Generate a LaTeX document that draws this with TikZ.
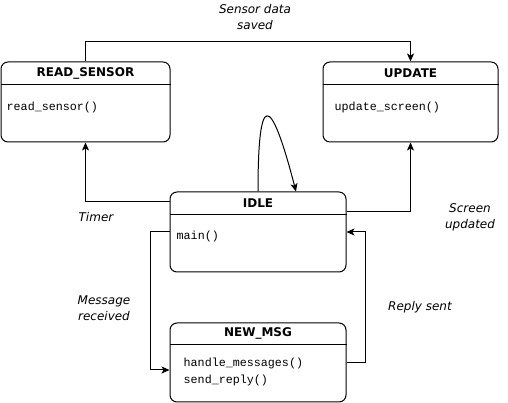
\documentclass[tikz,border=0pt]{standalone}
\usepackage{fontspec}
\setmainfont{DejaVu Sans}
\newfontfamily\codefont{Liberation Mono}
\usetikzlibrary{arrows.meta}
\begin{document}
\begin{tikzpicture}[x=1pt, y=1pt,
    state/.style={draw, line width=1pt, rounded corners=7pt, inner sep=0pt, minimum height=80pt},
    title/.style={font=\fontsize{12}{14}\selectfont\bfseries, inner sep=0pt},
    code/.style={font=\codefont\fontsize{11.7}{17}\selectfont, inner sep=0pt, anchor=west, align=left},
    lbl/.style={font=\fontsize{12}{16}\selectfont\itshape, inner sep=0pt, align=center},
    trans/.style={line width=1pt, -{Stealth[length=8pt, width=7pt, inset=2pt]}}]
    \useasboundingbox (0,0) rectangle (508,403);
    % states
    \node[state, minimum width=169pt] (read) at (85.5,301) {};
    \node[state, minimum width=175pt] (update) at (410.5,301) {};
    \node[state, minimum width=176pt] (idle) at (258,171) {};
    \node[state, minimum width=176pt, minimum height=79pt] (newmsg) at (258,40.5) {};
    \draw[line width=1pt] ([yshift=-23pt]read.north west) -- ([yshift=-23pt]read.north east);
    \draw[line width=1pt] ([yshift=-23pt]update.north west) -- ([yshift=-23pt]update.north east);
    \draw[line width=1pt] ([yshift=-23pt]idle.north west) -- ([yshift=-23pt]idle.north east);
    \draw[line width=1pt] ([yshift=-22pt]newmsg.north west) -- ([yshift=-22pt]newmsg.north east);
    \node[title] (readT) at ([yshift=-11.5pt]read.north) {READ\_SENSOR};
    \node[title] (updateT) at ([yshift=-11.5pt]update.north) {UPDATE};
    \node[title] (idleT) at ([yshift=-11.5pt]idle.north) {IDLE};
    \node[title] (newmsgT) at ([yshift=-11pt]newmsg.north) {NEW\_MSG};
    \node[code] (readC) at ([xshift=6pt, yshift=-46pt]read.north west) {read\_sensor()};
    \node[code] (updateC) at ([xshift=12pt, yshift=-46pt]update.north west) {update\_screen()};
    \node[code] (idleC) at ([xshift=7pt, yshift=-45pt]idle.north west) {main()};
    \node[code] (newmsgC) at ([xshift=14pt, yshift=-49.5pt]newmsg.north west) {handle\_messages()\\send\_reply()};
    % transitions
    \draw[trans] (read.north) -- ++(0,20) -| (update.north);
    \draw[trans] ([yshift=30pt]idle.west) -| (read.south);
    \draw[trans] ([yshift=20pt]idle.east) -| (update.south);
    \draw[trans] (idle.west) -- ++(-19,0) |- ([yshift=-7.5pt]newmsg.west);
    \draw[trans] (newmsg.east) -- ++(19,0) |- (idle.east);
    \draw[trans] (idle.north) .. controls +(0,100) and +(-26,100) .. ([xshift=38pt]idle.north);
    % labels
    \node[lbl] (savedL) at (255,386) {Sensor data\\saved};
    \node[lbl] (timerL) at (96,186) {Timer};
    \node[lbl] (screenL) at (470,185.5) {Screen\\updated};
    \node[lbl] (msgL) at (104,95) {Message\\received};
    \node[lbl] (replyL) at (420,96) {Reply sent};
\end{tikzpicture}
\end{document}
